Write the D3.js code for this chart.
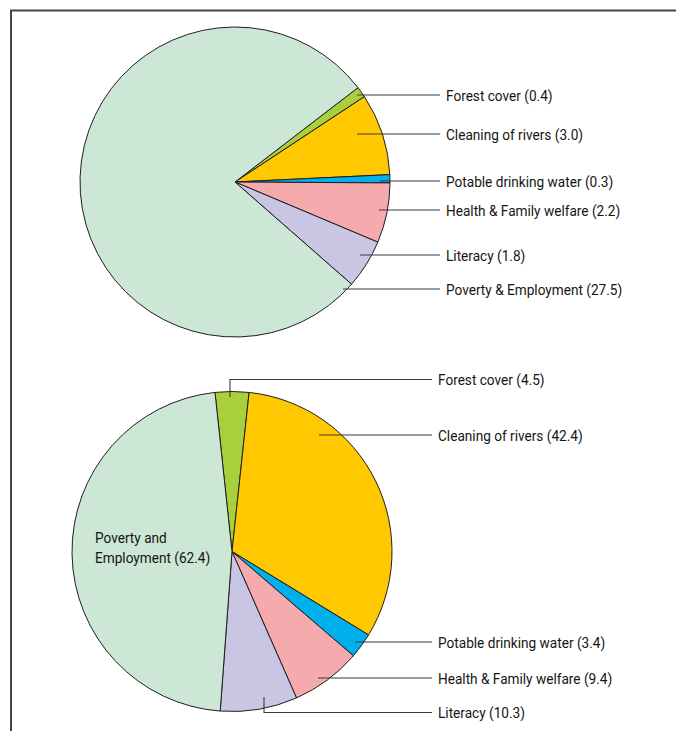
<!DOCTYPE html>
<html>
<head>
<meta charset="utf-8">
<script src="https://cdn.jsdelivr.net/npm/d3@7"></script>
<style>
  html, body { margin: 0; padding: 0; background: #fff; }
  svg text { font-family: Roboto, "Liberation Sans", sans-serif; font-size: 15.5px; fill: #151515; }
</style>
</head>
<body>
<svg id="chart" width="676" height="731"></svg>
<script>
// Spending categories (same order for both pies, clockwise)
const categories = ["Forest cover", "Cleaning of rivers", "Potable drinking water",
                    "Health & Family welfare", "Literacy", "Poverty & Employment"];
const colors = ["#a9d03c", "#ffc800", "#00b0ec", "#f5abad", "#c8c6e2", "#cde7d6"];

// Upper pie values
const valuesTop = [0.4, 3.0, 0.3, 2.2, 1.8, 27.5];
// Lower pie values
const valuesBottom = [4.5, 42.4, 3.4, 9.4, 10.3, 62.4];

// Label texts
const labelsTop = ["Forest cover (0.4)", "Cleaning of rivers (3.0)", "Potable drinking water (0.3)",
                   "Health & Family welfare (2.2)", "Literacy (1.8)", "Poverty & Employment (27.5)"];
const labelsBottom = ["Forest cover (4.5)", "Cleaning of rivers (42.4)", "Potable drinking water (3.4)",
                      "Health & Family welfare (9.4)", "Literacy (10.3)", null];
const insideLabelBottom = ["Poverty and", "Employment (62.4)"];

const svg = d3.select("#chart");
const NARROW = 0.88; // horizontal squeeze for a condensed look

// Frame (top and left rules)
svg.append("path")
  .attr("d", "M11,731 V10.5 H676")
  .attr("fill", "none")
  .attr("stroke", "#444")
  .attr("stroke-width", 2);

const deg = Math.PI / 180;

function narrowText(sel, x, y, str) {
  return sel.append("text")
    .attr("transform", `translate(${x},${y}) scale(${NARROW},1)`)
    .attr("dy", "0.36em")
    .text(str);
}

function drawPie(cfg) {
  const g = svg.append("g").attr("transform", `translate(${cfg.cx},${cfg.cy})`);
  const pie = d3.pie().sort(null).value(d => d)
    .startAngle(cfg.start * deg).endAngle(cfg.start * deg + 2 * Math.PI);
  const arc = d3.arc().innerRadius(0).outerRadius(cfg.r);
  const arcs = pie(cfg.values);

  g.selectAll("path.slice").data(arcs).join("path")
    .attr("class", "slice")
    .attr("d", arc)
    .attr("fill", (d, i) => colors[i])
    .attr("stroke", "#1e1e1e")
    .attr("stroke-width", 1)
    .attr("stroke-linejoin", "round");

  // Leader lines + labels (placed in page coordinates)
  const lg = svg.append("g");
  cfg.leaders.forEach((L, i) => {
    if (!cfg.labels[i]) return;
    lg.append("path")
      .attr("d", `M${L.ax},${L.ay} V${L.y} H${cfg.lineEnd}`)
      .attr("fill", "none")
      .attr("stroke", "#3a3a3a")
      .attr("stroke-width", 1.1);
    narrowText(lg, cfg.textX, L.y, cfg.labels[i]);
  });
}

drawPie({
  cx: 235, cy: 182, r: 155, start: 52.5,
  values: valuesTop, labels: labelsTop,
  lineEnd: 440, textX: 446,
  leaders: [
    { ax: 357, ay: 95,  y: 95 },
    { ax: 357, ay: 134, y: 134 },
    { ax: 380, ay: 181, y: 181 },
    { ax: 379, ay: 210, y: 210 },
    { ax: 360, ay: 255, y: 255 },
    { ax: 343, ay: 289, y: 289 }
  ]
});

drawPie({
  cx: 232, cy: 551.5, r: 160, start: -6.1,
  values: valuesBottom, labels: labelsBottom,
  lineEnd: 432, textX: 438,
  leaders: [
    { ax: 230, ay: 397, y: 379.5 },
    { ax: 319, ay: 435, y: 435 },
    { ax: 355, ay: 642, y: 642 },
    { ax: 318, ay: 678, y: 678 },
    { ax: 264, ay: 697, y: 712.5 },
    null
  ]
});

// Label set inside the large lower slice
insideLabelBottom.forEach((s, i) => {
  svg.append("text")
    .attr("transform", `translate(95,${543 + i * 20}) scale(${NARROW},1)`)
    .text(s);
});
</script>
</body>
</html>
